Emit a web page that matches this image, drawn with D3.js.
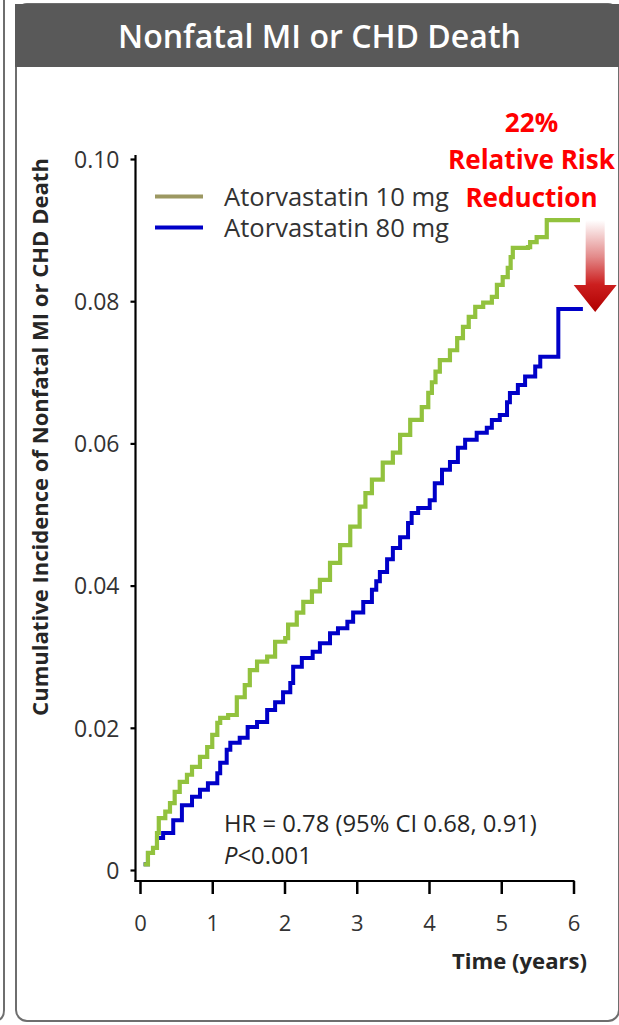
<!DOCTYPE html>
<html>
<head>
<meta charset="utf-8">
<script src="https://cdn.jsdelivr.net/npm/d3@7"></script>
<style>
  html, body { margin: 0; padding: 0; background: #fff; }
  svg { display: block; }
  text { font-family: "Open Sans", "DejaVu Sans", sans-serif; }
</style>
</head>
<body>
<svg id="chart" width="619" height="1025"></svg>
<script>
// Kaplan-Meier style cumulative incidence, step corners [time (years), incidence]
const atorva10 = [
  [0.05, 0.0008], [0.11, 0.0024], [0.18, 0.0031], [0.235, 0.0052], [0.26, 0.0073],
  [0.35, 0.0082], [0.415, 0.0094], [0.48, 0.0110], [0.55, 0.0124], [0.65, 0.0134],
  [0.72, 0.0145], [0.83, 0.0159], [0.93, 0.0173], [1.00, 0.0190], [1.07, 0.0207],
  [1.11, 0.0214], [1.22, 0.0218], [1.34, 0.0243], [1.45, 0.0260], [1.52, 0.0281],
  [1.62, 0.0293], [1.76, 0.0300], [1.87, 0.0321], [2.01, 0.0326], [2.05, 0.0345],
  [2.17, 0.0362], [2.26, 0.0377], [2.38, 0.0392], [2.49, 0.0408], [2.63, 0.0432],
  [2.77, 0.0457], [2.91, 0.0483], [3.04, 0.0511], [3.12, 0.0530], [3.21, 0.0549],
  [3.36, 0.0573], [3.50, 0.0587], [3.60, 0.0612], [3.74, 0.0633], [3.90, 0.0651],
  [3.99, 0.0671], [4.04, 0.0686], [4.09, 0.0701], [4.15, 0.0717], [4.29, 0.0731],
  [4.39, 0.0748], [4.47, 0.0764], [4.55, 0.0778], [4.64, 0.0792], [4.75, 0.0798],
  [4.87, 0.0806], [4.94, 0.0823], [5.02, 0.0834], [5.09, 0.0847], [5.13, 0.0862],
  [5.16, 0.0875], [5.37, 0.0876], [5.40, 0.0883], [5.49, 0.0890], [5.63, 0.0914],
  [6.09, 0.0914]
];
const atorva80 = [
  [0.05, 0.0008], [0.11, 0.0024], [0.18, 0.0031], [0.235, 0.0045], [0.32, 0.0052],
  [0.46, 0.0070], [0.58, 0.0091], [0.72, 0.0103], [0.83, 0.0113], [0.94, 0.0122],
  [1.07, 0.0136], [1.11, 0.0151], [1.20, 0.0169], [1.25, 0.0179], [1.38, 0.0186],
  [1.49, 0.0201], [1.62, 0.0208], [1.76, 0.0225], [1.87, 0.0236], [1.98, 0.0250],
  [2.08, 0.0263], [2.12, 0.0286], [2.24, 0.0298], [2.39, 0.0307], [2.49, 0.0319],
  [2.63, 0.0333], [2.74, 0.0340], [2.87, 0.0349], [2.95, 0.0362], [3.09, 0.0377],
  [3.21, 0.0394], [3.27, 0.0406], [3.32, 0.0419], [3.42, 0.0437], [3.50, 0.0453],
  [3.60, 0.0468], [3.71, 0.0488], [3.76, 0.0502], [3.85, 0.0509], [4.01, 0.0520],
  [4.08, 0.0544], [4.18, 0.0563], [4.29, 0.0574], [4.40, 0.0594], [4.50, 0.0605],
  [4.66, 0.0615], [4.80, 0.0622], [4.87, 0.0633], [4.98, 0.0640], [5.08, 0.0658],
  [5.12, 0.0671], [5.23, 0.0682], [5.33, 0.0694], [5.47, 0.0708], [5.54, 0.0722],
  [5.79, 0.0789], [6.13, 0.0789]
];
const timeTicks = [0, 1, 2, 3, 4, 5, 6];
const incidenceTicks = [0, 0.02, 0.04, 0.06, 0.08, 0.10];
const incidenceLabels = ["0", "0.02", "0.04", "0.06", "0.08", "0.10"];
const seriesNames = ["Atorvastatin 10 mg", "Atorvastatin 80 mg"];
const lineColors = ["#92c23e", "#0000c8"];
const legendColors = ["#9c9862", "#0000c8"];
const hrText = "HR = 0.78 (95% CI 0.68, 0.91)";
const pText = ["P", "<0.001"];
const calloutLines = ["22%", "Relative Risk", "Reduction"];

const svg = d3.select("#chart");

// scale a text element so its rendered width equals w
function fitWidth(sel, w) {
  const len = sel.node().getComputedTextLength();
  const fs = parseFloat(sel.attr("font-size"));
  sel.attr("font-size", (fs * w / len).toFixed(2));
  return sel;
}

// --- panel frame ---
svg.append("path")
  .attr("d", "M4,0 V1010 Q4,1021 -7,1021")
  .attr("fill", "none").attr("stroke", "#6e6e6e").attr("stroke-width", 2);
svg.append("rect")
  .attr("x", 16).attr("y", 4).attr("width", 603).attr("height", 1017)
  .attr("rx", 11).attr("fill", "#fff").attr("stroke", "#6e6e6e").attr("stroke-width", 2);
svg.append("rect")
  .attr("x", 15).attr("y", 4).attr("width", 604).attr("height", 63)
  .attr("fill", "#595959");
const title = svg.append("text")
  .attr("x", 319.5).attr("y", 36).attr("dy", "0.36em")
  .attr("text-anchor", "middle").attr("fill", "#fff")
  .attr("font-size", 30).attr("font-weight", 600)
  .text("Nonfatal MI or CHD Death");
fitWidth(title, 403);

// --- scales ---
const x = d3.scaleLinear().domain([0, 6]).range([140, 573.5]);
const y = d3.scaleLinear().domain([0, 0.1]).range([870, 159]);
const axisX = 135.5, axisY = 881;

const g = svg.append("g");

// axis lines
g.append("line").attr("x1", axisX).attr("x2", axisX).attr("y1", 155).attr("y2", axisY + 1)
  .attr("stroke", "#000").attr("stroke-width", 2.2);
g.append("line").attr("x1", axisX - 1).attr("x2", x(6) + 1).attr("y1", axisY).attr("y2", axisY)
  .attr("stroke", "#000").attr("stroke-width", 2.2);

// x axis
const xAxis = g.append("g").attr("transform", `translate(0,${axisY})`)
  .call(d3.axisBottom(x).tickValues(timeTicks).tickSizeInner(13).tickSizeOuter(0).tickFormat(d3.format("d")));
xAxis.select(".domain").remove();
xAxis.selectAll(".tick line").attr("stroke", "#000").attr("stroke-width", 2.5);
xAxis.selectAll(".tick text")
  .attr("y", 42).attr("dy", "0.36em")
  .attr("font-size", 22).attr("fill", "#333")
  .attr("font-family", "'Open Sans', sans-serif");

// y axis
const yAxis = g.append("g").attr("transform", `translate(${axisX},0)`)
  .call(d3.axisLeft(y).tickValues(incidenceTicks).tickSizeInner(5).tickSizeOuter(0)
    .tickPadding(11).tickFormat((d, i) => incidenceLabels[i]));
yAxis.select(".domain").remove();
yAxis.selectAll(".tick line").attr("stroke", "#000").attr("stroke-width", 2.2);
yAxis.selectAll(".tick text")
  .attr("dy", "0.36em")
  .attr("font-size", 23).attr("fill", "#333")
  .attr("font-family", "'Open Sans', sans-serif");

// axis titles
const yTitle = svg.append("text")
  .attr("transform", "translate(40,437) rotate(-90)")
  .attr("text-anchor", "middle").attr("dy", "0.36em")
  .attr("font-size", 20).attr("font-weight", 700).attr("fill", "#262626")
  .text("Cumulative Incidence of Nonfatal MI or CHD Death");
fitWidth(yTitle, 558);
const xTitle = svg.append("text")
  .attr("x", 587).attr("y", 961).attr("dy", "0.36em")
  .attr("text-anchor", "end")
  .attr("font-size", 20).attr("font-weight", 700).attr("fill", "#262626")
  .text("Time (years)");
fitWidth(xTitle, 135);

// --- curves ---
const line = d3.line().x(d => x(d[0])).y(d => y(d[1])).curve(d3.curveStepAfter);
g.append("path").datum(atorva80)
  .attr("d", line).attr("fill", "none")
  .attr("stroke", lineColors[1]).attr("stroke-width", 4);
g.append("path").datum(atorva10)
  .attr("d", line).attr("fill", "none")
  .attr("stroke", lineColors[0]).attr("stroke-width", 4.2);

// --- legend ---
const legend = svg.append("g");
seriesNames.forEach((name, i) => {
  const ly = 196.5 + i * 31;
  legend.append("line").attr("x1", 155).attr("x2", 203).attr("y1", ly).attr("y2", ly)
    .attr("stroke", legendColors[i]).attr("stroke-width", 4);
  const t = legend.append("text").attr("x", 224).attr("y", ly).attr("dy", "0.36em")
    .attr("font-size", 22).attr("fill", "#333").text(name);
  fitWidth(t, 225);
});

// --- HR annotation ---
const hr = svg.append("text").attr("x", 224).attr("y", 823).attr("dy", "0.36em")
  .attr("font-size", 20).attr("fill", "#262626").text(hrText);
fitWidth(hr, 313);
const hrSize = hr.attr("font-size");
const pv = svg.append("text").attr("x", 224).attr("y", 855).attr("dy", "0.36em")
  .attr("font-size", hrSize).attr("fill", "#262626");
pv.append("tspan").attr("font-style", "italic").text(pText[0]);
pv.append("tspan").text(pText[1]);

// --- relative risk reduction callout ---
const callY = [123, 160, 198];
const callTexts = calloutLines.map((s, i) =>
  svg.append("text").attr("x", 531.5).attr("y", callY[i]).attr("dy", "0.36em")
    .attr("text-anchor", "middle")
    .attr("font-size", 27).attr("font-weight", 700).attr("fill", "#ff0000")
    .text(s));
fitWidth(callTexts[1], 167);
callTexts.forEach(t => t.attr("font-size", callTexts[1].attr("font-size")));

// arrow spanning the gap between final incidences
const defs = svg.append("defs");
const grad = defs.append("linearGradient").attr("id", "arrowGrad")
  .attr("x1", 0).attr("y1", 0).attr("x2", 0).attr("y2", 1);
grad.append("stop").attr("offset", "0%").attr("stop-color", "#ffffff");
grad.append("stop").attr("offset", "40%").attr("stop-color", "#e38a8a");
grad.append("stop").attr("offset", "70%").attr("stop-color", "#cc1f1f");
grad.append("stop").attr("offset", "100%").attr("stop-color", "#b00000");

const ax = x(6.3);
const aTop = y(atorva10[atorva10.length - 1][1]);
const aTip = y(atorva80[atorva80.length - 1][1]) + 3;
const headH = 27, shaftW = 19, headW = 43;
svg.append("path")
  .attr("d", `M${ax - shaftW / 2},${aTop} H${ax + shaftW / 2} V${aTip - headH}
              H${ax + headW / 2} L${ax},${aTip} L${ax - headW / 2},${aTip - headH}
              H${ax - shaftW / 2} Z`)
  .attr("fill", "url(#arrowGrad)");
</script>
</body>
</html>
